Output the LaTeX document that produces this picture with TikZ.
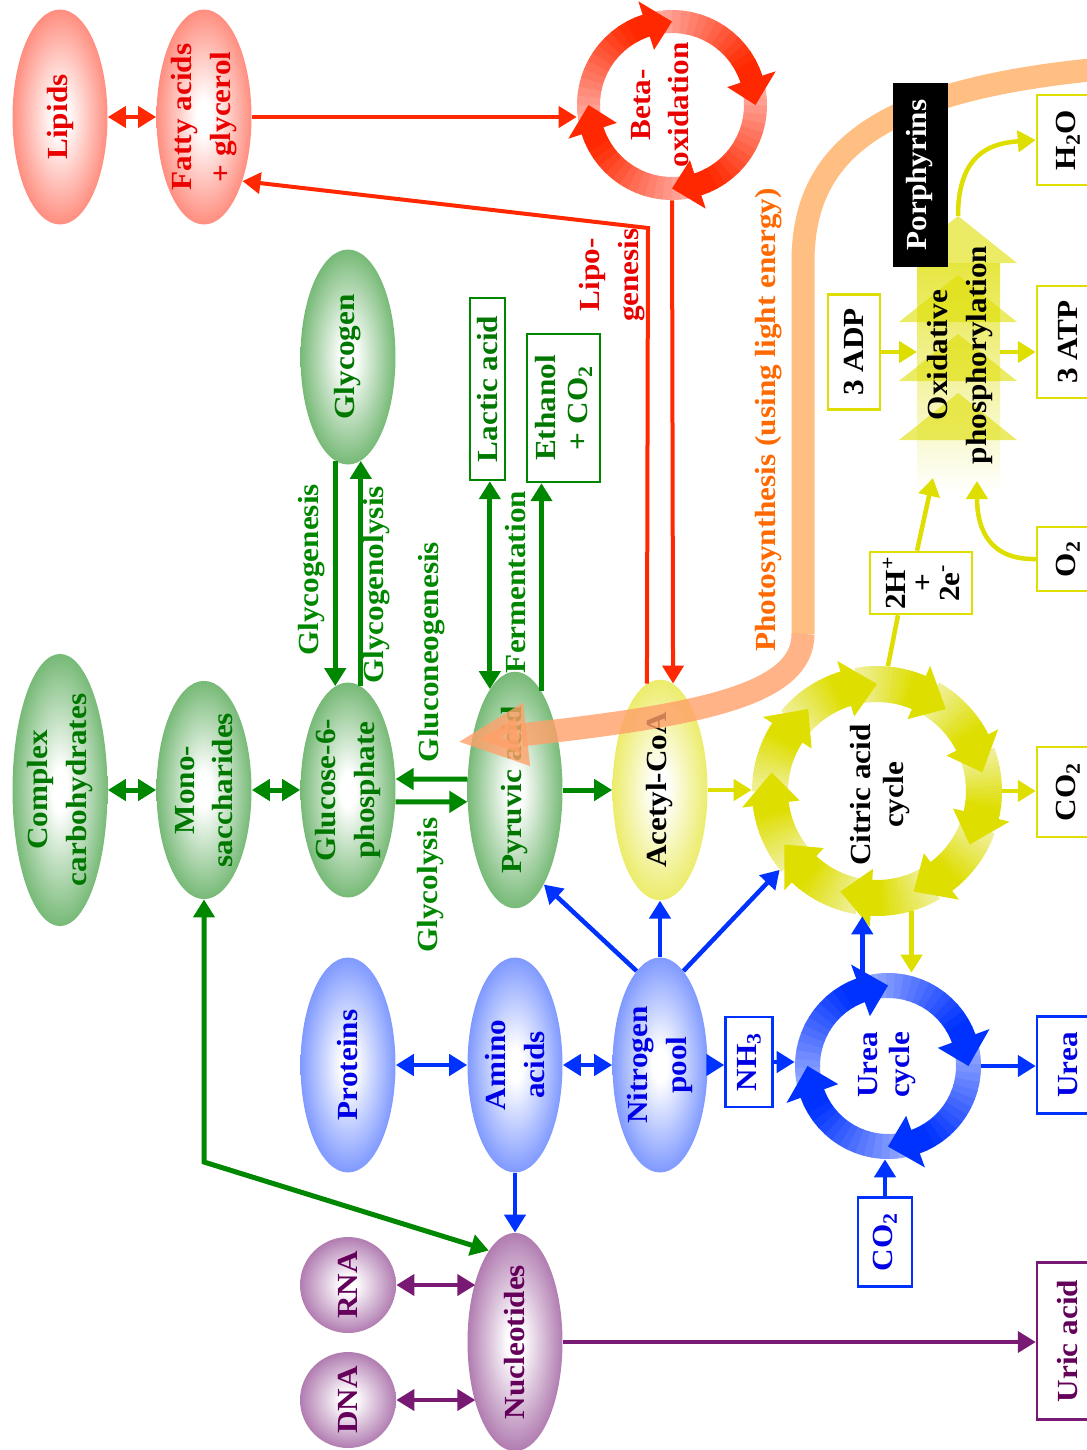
\documentclass[tikz,border=0pt]{standalone}
\usepackage{fontspec}
\setmainfont{Liberation Serif}[FakeStretch=1.07]
\usetikzlibrary{shapes.geometric,arrows.meta,calc}

\definecolor{fatred}{RGB}{255,40,0}
\definecolor{fattext}{RGB}{235,0,0}
\definecolor{fatball}{RGB}{255,60,35}
\definecolor{betapale}{RGB}{255,175,165}
\definecolor{sugargreen}{RGB}{0,135,0}
\definecolor{sugartext}{RGB}{0,120,0}
\definecolor{sugarball}{RGB}{20,135,20}
\definecolor{kreb}{RGB}{222,222,0}
\definecolor{krebpale}{RGB}{240,240,160}
\definecolor{aminoblue}{RGB}{0,50,255}
\definecolor{aminotext}{RGB}{0,0,230}
\definecolor{aminoball}{RGB}{35,80,255}
\definecolor{ureapale}{RGB}{150,170,255}
\definecolor{nucpurple}{RGB}{120,25,115}
\definecolor{nuctext}{RGB}{100,0,90}
\definecolor{nucball}{RGB}{120,30,120}
\definecolor{sunpeach}{RGB}{255,190,130}
\definecolor{sunsalmon}{RGB}{255,160,105}
\definecolor{suntext}{RGB}{255,105,0}

% white centre fading out to the colour of the pool
\pgfdeclareradialshading[ballout]{soft}{\pgfpoint{0bp}{0bp}}{%
  color(0bp)=(white); color(4bp)=(white); color(25bp)=(ballout!58!white);
  color(42bp)=(ballout!92!white); color(50bp)=(ballout)}
\colorlet{ballout}{red}

% ring of curved arrows running clockwise, each one pale at its tail
% #1 centre, #2/#3 inner/outer radius, #4 arrows, #5 angle of first tip,
% #6 head length (deg), #7 head overhang, #8 pale colour, #9 full colour
\newcommand\ringcycle[9]{%
  \begin{scope}[shift={#1}]
    \pgfmathsetmacro\seg{360/#4}
    \pgfmathsetmacro\len{\seg-0.4*#6}
    \foreach \k in {1,...,#4}{
      \foreach \j in {0,...,14}{
        \pgfmathsetmacro\a{#5+(\k-2)*\seg-0.6*#6+\j*\len/15}
        \pgfmathsetmacro\b{\a+\len/15+0.5}
        \pgfmathtruncatemacro\mix{min(100,(\j+0.5)/15*115)}
        \fill[#9!\mix!#8] (\a:#3) arc[start angle=\a, end angle=\b, radius=#3]
          -- (\b:#2) arc[start angle=\b, end angle=\a, radius=#2] -- cycle;
      }
    }
    \foreach \k in {1,...,#4}{
      \pgfmathsetmacro\tip{#5+(\k-1)*\seg}
      \pgfmathsetmacro\base{\tip-#6}
      \pgfmathsetmacro\rin{#2-#7}
      \pgfmathsetmacro\rout{#3+#7}
      \pgfmathsetmacro\rmid{(#2+#3)/2}
      \fill[#9] (\base:\rin) -- (\tip:\rmid) -- (\base:\rout) -- cycle;
    }
  \end{scope}}

\tikzset{
  every node/.style={font=\bfseries\fontsize{16.6}{22}\selectfont},
  tight/.style={font=\bfseries\fontsize{16.6}{18.5}\selectfont},
  upright/.style={rotate=90, align=center},
  ball/.style={upright, shape=ellipse, minimum width=4.3cm, minimum height=1.9cm,
    inner sep=0pt, shade, shading=soft, /utils/exec={\colorlet{ballout}{#1}}},
  tag/.style={upright, draw=#1, line width=0.05cm, fill=white, inner sep=0pt},
  ring/.style={circle, inner sep=0pt},
  link/.style={line width=0.09cm, ->},
  fatlink/.style={link, draw=fatred, line width=0.08cm},
  sugarlink/.style={link, draw=sugargreen, line width=0.1cm},
  aminolink/.style={link, draw=aminoblue},
  nuclink/.style={link, draw=nucpurple, line width=0.08cm},
  kreblink/.style={link, draw=kreb},
  sunband/.style={line width=0.46cm, draw=sunpeach},
}

\begin{document}
\begin{tikzpicture}[x=0.02cm, y=-0.02cm, >={Triangle[length=0.36cm,width=0.42cm]}]
  \useasboundingbox (0,0) rectangle (1086,1450);

  % lipids
  \node[ball=fatball, text=fattext] (lipids) at (60,117) {Lipids};
  \node[ball=fatball, text=fattext] (fatty) at (204,117) {Fatty acids\\+ glycerol};
  \node[ring, minimum size=3.8cm] (beta) at (672,105) {};
  \ringcycle{(beta)}{72}{95}{4}{0}{18}{14}{betapale}{fatred}
  \node[upright, text=fattext] (betatext) at (660,105) {Beta-\\oxidation};
  \node[upright, text=fattext] (lipolabel) at (612,275) {Lipo-\\genesis};

  % carbohydrates
  \node[ball=sugarball, text=sugartext] (complex) at (60,790) {Complex\\carbohydrates};
  \node[ball=sugarball, text=sugartext] (mono) at (204,790) {Mono-\\saccharides};
  \node[ball=sugarball, text=sugartext] (g6p) at (348,790) {Glucose-6-\\phosphate};
  \node[ball=sugarball, text=sugartext] (glycogen) at (348,357) {Glycogen};
  \node[ball=sugarball, text=sugartext] (pyruvic) at (515,790) {Pyruvic acid};
  \node[tag=sugargreen, text=sugartext, minimum width=3.64cm, minimum height=0.7cm] (lactic) at (487.5,389) {Lactic acid};
  \node[tag=sugargreen, text=sugartext, tight, minimum width=2.96cm, minimum height=1.46cm] (ethanol) at (563.5,408) {Ethanol\\+ CO\textsubscript{2}};
  \node[upright, text=sugargreen] (genlabel) at (312,570) {Glycogenesis};
  \node[upright, text=sugargreen] (lysislabel) at (377,585) {Glycogenolysis};
  \node[upright, text=sugargreen] (neolabel) at (432,652) {Gluconeogenesis};
  \node[upright, text=sugargreen] (glylabel) at (431,885) {Glycolysis};
  \node[upright, text=sugargreen] (fermlabel) at (516,582) {Fermentation};

  % citric acid cycle and respiration
  \node[ball=kreb, text=black] (acetyl) at (660,790) {Acetyl-CoA};
  \node[ring, minimum size=5cm] (citric) at (877,791) {};
  \ringcycle{(citric)}{89}{125}{9}{270}{17}{11}{krebpale}{kreb}
  \node[upright, tight] (citrictext) at (880,795) {Citric acid\\cycle};
  \node[tag=kreb, minimum width=1.8cm, minimum height=1.24cm] (co2y) at (1068,792) {CO\textsubscript{2}};
  \node[tag=kreb, font=\bfseries\fontsize{16.6}{15.3}\selectfont, minimum width=1.24cm, minimum height=2.04cm] (hbox) at (921,583) {2H\textsuperscript{+}\\+\\2e\textsuperscript{-}};

  % oxidative phosphorylation: pale shaft with four stacked heads
  \shade[top color=kreb!75, bottom color=white] (917,263) rectangle (1000,492);
  \foreach \t in {216,275,334,393}
    \fill[kreb, opacity=0.6] (899,\t+47) -- (958,\t) -- (1017,\t+47) -- cycle;
  \coordinate (oxout) at (958,216);
  \coordinate (oxin1) at (933,478);
  \coordinate (oxin2) at (977,481);
  \coordinate (oxleft) at (917,352);
  \coordinate (oxright) at (1000,352);
  \node[upright] (oxtext) at (960,355) {Oxidative\\phosphorylation};
  \node[tag=kreb, minimum width=2.3cm, minimum height=1.04cm] (adp) at (854,352) {3 ADP};
  \node[tag=kreb, minimum width=2.24cm, minimum height=1.24cm] (atp) at (1068,342) {3 ATP};
  \node[tag=kreb, minimum width=1.8cm, minimum height=1.24cm] (h2o) at (1068,140) {H\textsubscript{2}O};
  \node[tag=kreb, minimum width=1.28cm, minimum height=1.24cm] (o2) at (1068,559) {O\textsubscript{2}};

  % amino acids
  \node[ball=aminoball, text=aminotext] (proteins) at (348,1065) {Proteins};
  \node[ball=aminoball, text=aminotext] (amino) at (515,1065) {Amino\\acids};
  \node[ball=aminoball, text=aminotext] (nitrogen) at (660,1065) {Nitrogen\\pool};
  \node[tag=aminoblue, text=aminotext, minimum width=1.8cm, minimum height=0.94cm] (nh3) at (749,1062) {NH\textsubscript{3}};
  \node[ring, minimum size=3.72cm] (ureacyc) at (888,1066) {};
  \ringcycle{(ureacyc)}{68}{93}{4}{0}{20}{15}{ureapale}{aminoblue}
  \node[upright, tight, text=aminotext] (ureatext) at (887,1065) {Urea\\cycle};
  \node[tag=aminoblue, text=aminotext, minimum width=1.94cm, minimum height=1.24cm] (ureabox) at (1068,1065) {Urea};
  \node[tag=aminoblue, text=aminotext, minimum width=1.78cm, minimum height=1.08cm] (co2b) at (885,1242) {CO\textsubscript{2}};

  % nucleic acids
  \node[ball=nucball, text=nuctext] (nucleotides) at (515,1342) {Nucleotides};
  \node[ball=nucball, text=nuctext, shape=circle, minimum width=1.92cm, minimum height=1.92cm] (rna) at (348,1285) {RNA};
  \node[ball=nucball, text=nuctext, shape=circle, minimum width=1.92cm, minimum height=1.92cm] (dna) at (348,1400) {DNA};
  \node[tag=nucpurple, text=nuctext, minimum width=3.14cm, minimum height=1.24cm] (uric) at (1068,1341) {Uric acid};

  % red connectors
  \draw[fatlink, <->] (lipids.south) -- (fatty.north);
  \draw[fatlink] (fatty.south) -- (fatty.south -| beta.west);
  \coordinate (lipobend) at (648,228);
  \draw[fatlink] (acetyl.7) -- (lipobend) -- (fatty.211); % lipogenesis
  \draw[fatlink] (beta.south) -- (acetyl.-7);

  % green connectors
  \draw[sugarlink, <->] (complex.south) -- (mono.north);
  \draw[sugarlink, <->] (mono.south) -- (g6p.north);
  \draw[sugarlink] (glycogen.173) -- (g6p.7);
  \draw[sugarlink] (g6p.-7) -- (glycogen.187);
  \draw[sugarlink] (pyruvic.77) -- (g6p.-77);
  \draw[sugarlink] (g6p.-104) -- (pyruvic.104);
  \draw[sugarlink] (pyruvic.south) -- (acetyl.north);
  \draw[sugarlink, <->] (pyruvic.14) -- (pyruvic.14 |- lactic.west);
  \draw[sugarlink] (pyruvic.-15) -- (pyruvic.-15 |- ethanol.west);
  \coordinate (monobend) at (204,1162);
  \draw[sugarlink, <->] (mono.west) -- (monobend) -- (nucleotides.16);

  % blue connectors
  \draw[aminolink, <->] (proteins.south) -- (amino.north);
  \draw[aminolink, <->] (amino.south) -- (nitrogen.north);
  \draw[aminolink] (nitrogen.south) -- (nitrogen.south -| nh3.north);
  \draw[aminolink] (nh3.south) -- (nh3.south -| ureacyc.west);
  \draw[aminolink] (ureacyc.east) -- (ureacyc.east -| ureabox.north);
  \draw[aminolink] (co2b.east) -- (co2b.east |- ureacyc.south);
  \draw[aminolink] (ureacyc.106) -- (ureacyc.106 |- citric.south);
  \draw[aminolink] (nitrogen.14) -- (pyruvic.197);
  \draw[aminolink] (nitrogen.east) -- (acetyl.west);
  \draw[aminolink] (nitrogen.-14) -- (citric.219);
  \draw[aminolink] (amino.west) -- (nucleotides.east);

  % purple connectors
  \draw[nuclink, <->] (rna.south) -- (rna.south -| nucleotides.33);
  \draw[nuclink, <->] (dna.south) -- (dna.south -| nucleotides.147);
  \draw[nuclink] (nucleotides.south) -- (nucleotides.south -| uric.north);

  % yellow connectors
  \draw[kreblink] (acetyl.south) -- (acetyl.south -| citric.west);
  \draw[kreblink] (citric.east) -- (citric.east -| co2y.north);
  \draw[kreblink] (citric.-74) -- (citric.-74 |- ureacyc.north);
  \draw[kreblink, -] (citric.85) -- ($(hbox.west)+(-23,0)$);
  \draw[kreblink] ($(hbox.east)+(-4,0)$) -- (oxin1);
  \draw[kreblink] (adp.south) -- (oxleft);
  \draw[kreblink] (oxright) -- (oxright -| atp.north);
  \draw[kreblink] (oxout) .. controls (958,150) and (995,143) .. (h2o.north);
  \draw[kreblink] (o2.north) .. controls (990,560) and (977,530) .. (oxin2);

  % photosynthesis band
  \coordinate (sunstart) at (1100,69);
  \coordinate (sunend) at (457,742);
  \draw[sunband] (sunstart) .. controls (880,90) and (803,150) .. (803,262) -- (803,634);
  \draw[sunband, draw=sunsalmon, opacity=0.8, -{Triangle[length=1.4cm,width=1.16cm]}]
    (803,634) .. controls (803,695) and (700,715) .. (sunend);
  \node[upright, text=suntext] (sunlabel) at (769,420) {Photosynthesis (using light energy)};
  \node[upright, fill=black, text=white, minimum width=3.7cm, minimum height=1.1cm] (porph) at (920,175) {Porphyrins};
\end{tikzpicture}
\end{document}
